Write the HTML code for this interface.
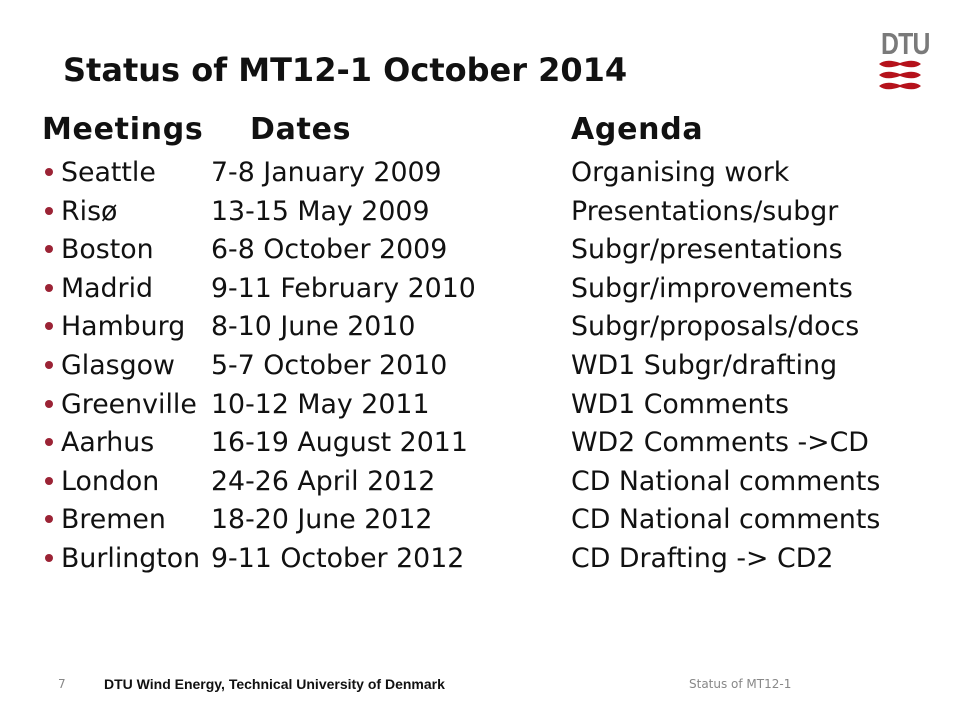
<!DOCTYPE html>
<html><head><meta charset="utf-8"><style>
body{margin:0;width:960px;height:720px;background:#fff;position:relative;overflow:hidden;font-family:"DejaVu Sans","Liberation Sans",sans-serif;color:#111}
.a{position:absolute;white-space:nowrap}
.t{font-weight:bold;font-size:32px;line-height:40px;left:63px;top:50px}
.h{font-weight:bold;font-size:30px;top:112px;letter-spacing:0.7px}
.r{font-size:26.8px;line-height:30px}
.b{position:absolute;width:8px;height:8px;border-radius:50%;background:#9b2335}
.f{font-size:12px;top:677px}
</style></head><body>
<div class="a t">Status of MT12-1 October 2014</div>
<div class="a" style="left:878px;top:28px;width:44px;height:64px">
<div style="font-weight:bold;font-size:31px;color:#7a7a7a;letter-spacing:-1px;font-family:'Liberation Sans',sans-serif;transform:scaleX(0.8);transform-origin:left;position:absolute;left:3px;top:-2px">DTU</div>
<svg width="44" height="34" style="position:absolute;left:0;top:30px"><g fill="#b5121b">
<path d="M1 6 Q8 0 22 5 Q36 0 43 6 Q36 12 22 7 Q8 12 1 6Z"/>
<path d="M1 17 Q8 11 22 16 Q36 11 43 17 Q36 23 22 18 Q8 23 1 17Z"/>
<path d="M1 28 Q8 22 22 27 Q36 22 43 28 Q36 34 22 29 Q8 34 1 28Z"/></g></svg></div>
<div class="a h" style="left:42px">Meetings</div>
<div class="a h" style="left:250px">Dates</div>
<div class="a h" style="left:571px">Agenda</div>
<div id="rows"></div>
<div class="a f" style="left:58px;color:#888">7</div>
<div class="a f" style="left:104px;top:676px;font-weight:bold;font-family:'Liberation Sans',sans-serif;font-size:14px">DTU Wind Energy, Technical University of Denmark</div>
<div class="a f" style="left:689px;color:#888">Status of MT12-1</div>
<script>
const places=["Seattle","Risø","Boston","Madrid","Hamburg","Glasgow","Greenville","Aarhus","London","Bremen","Burlington"];
const dates=["7-8 January 2009","13-15 May 2009","6-8 October 2009","9-11 February 2010","8-10 June 2010","5-7 October 2010","10-12 May 2011","16-19 August 2011","24-26 April 2012","18-20 June 2012","9-11 October 2012"];
const agendas=["Organising work","Presentations/subgr","Subgr/presentations","Subgr/improvements","Subgr/proposals/docs","WD1 Subgr/drafting","WD1 Comments","WD2 Comments ->CD","CD National comments","CD National comments","CD Drafting -> CD2"];
const c=document.getElementById('rows');
places.forEach((p,i)=>{
 const y=172+i*38.6;
 const b=document.createElement('div');b.className='b';b.style.left='45px';b.style.top=(y-4)+'px';
 
 
 c.appendChild(b);
 [[61,p,'meeting-place'],[211,dates[i],'meeting-date'],[571,agendas[i],'meeting-agenda']].forEach(([x,t,n])=>{
  const d=document.createElement('div');d.className='a r';d.style.left=x+'px';d.style.top=(y-14)+'px';d.textContent=t;
  
  
  c.appendChild(d);
 });
});
</script>
</body></html>
